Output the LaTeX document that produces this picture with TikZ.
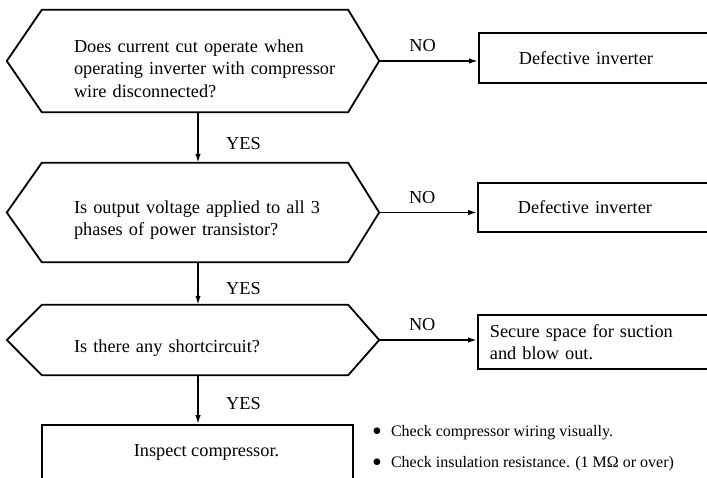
\documentclass[tikz,border=0pt]{standalone}
\usepackage{fontspec}
\setmainfont{Liberation Serif}
\usetikzlibrary{arrows.meta}
\hfuzz=40pt

\newcommand{\blt}{\raisebox{-3.5pt}{\fontsize{28}{28}\selectfont •}}

\tikzset{
  question/.style={minimum width=306pt, text width=242pt, inner xsep=32pt, inner ysep=0pt, align=left,
    execute at begin node={\rule{0pt}{28pt}}},
  result/.style={draw, line width=1.8pt, anchor=west, minimum width=245pt, align=left},
  outline/.style={line width=1.8pt, line join=miter},
  flow/.style={line width=1.6pt, -{Latex[length=9pt,width=5.5pt]}},
  note/.style={anchor=west, font=\fontsize{16}{19}\selectfont, inner sep=0pt}
}

\begin{document}
\begin{tikzpicture}[x=1pt,y=-1pt,font=\fontsize{18.3}{22.5}\selectfont]
  \fill[white] (0,0) rectangle (707,478);
  \useasboundingbox (0,0) rectangle (707,478);

  % questions
  \node[question, minimum height=102pt] (q1) at (195,61)
    {Does current cut operate when\\\mbox{operating inverter with compressor}\\wire disconnected?};
  \node[question, minimum height=99pt] (q2) at (195,212.5)
    {\mbox{Is output voltage applied to all 3}\\phases of power transistor?};
  \node[question, minimum height=70pt] (q3) at (195,340)
    {Is there any shortcircuit?};

  \foreach \q in {q1,q2,q3}{
    \draw[outline] (\q.north west) -- (\q.north east) -- ([xshift=31pt]\q.east) coordinate (\q r)
      -- (\q.south east) -- (\q.south west) -- ([xshift=-35pt]\q.west) -- cycle;
  }

  % results
  \node[result, minimum height=50pt, text width=165pt, inner xsep=39pt] (b1) at (478,58) {Defective inverter};
  \node[result, minimum height=49pt, text width=165pt, inner xsep=40pt] (b2) at (477,207.5) {Defective inverter};
  \node[result, minimum height=54pt, text width=221pt, inner xsep=12pt] (b3) at (477,342)
    {Secure space for suction\\and blow out.};
  \node[draw, line width=1.8pt, minimum width=311pt, minimum height=55pt] (b4) at (197.5,452.5)
    {\hspace*{18pt}Inspect compressor.};

  % NO branches
  \draw[flow] (q1r) -- (q1r -| b1.west) node[pos=0.44, above=5pt] {NO};
  \draw[flow] (q2r) -- (q2r -| b2.west) node[pos=0.44, above=5pt] {NO};
  \draw[flow] (q3r) -- (q3r -| b3.west) node[pos=0.44, above=5pt] {NO};

  % YES branches
  \draw[flow] ([xshift=3pt]q1.south) -- ([xshift=3pt]q2.north) node[pos=0.62, right=24pt] {YES};
  \draw[flow] ([xshift=3pt]q2.south) -- ([xshift=3pt]q3.north) node[pos=0.62, right=24pt] {YES};
  \draw[flow] ([xshift=3pt]q3.south) -- (b4.north -| 198,0) node[pos=0.58, right=24pt] {YES};

  \node[note] (n1) at (372,433) {\blt\hspace{9pt}Check compressor wiring visually.};
  \node[note] (n2) at (372,464) {\blt\hspace{9pt}Check insulation resistance. (1 MΩ or over)};
\end{tikzpicture}
\end{document}
